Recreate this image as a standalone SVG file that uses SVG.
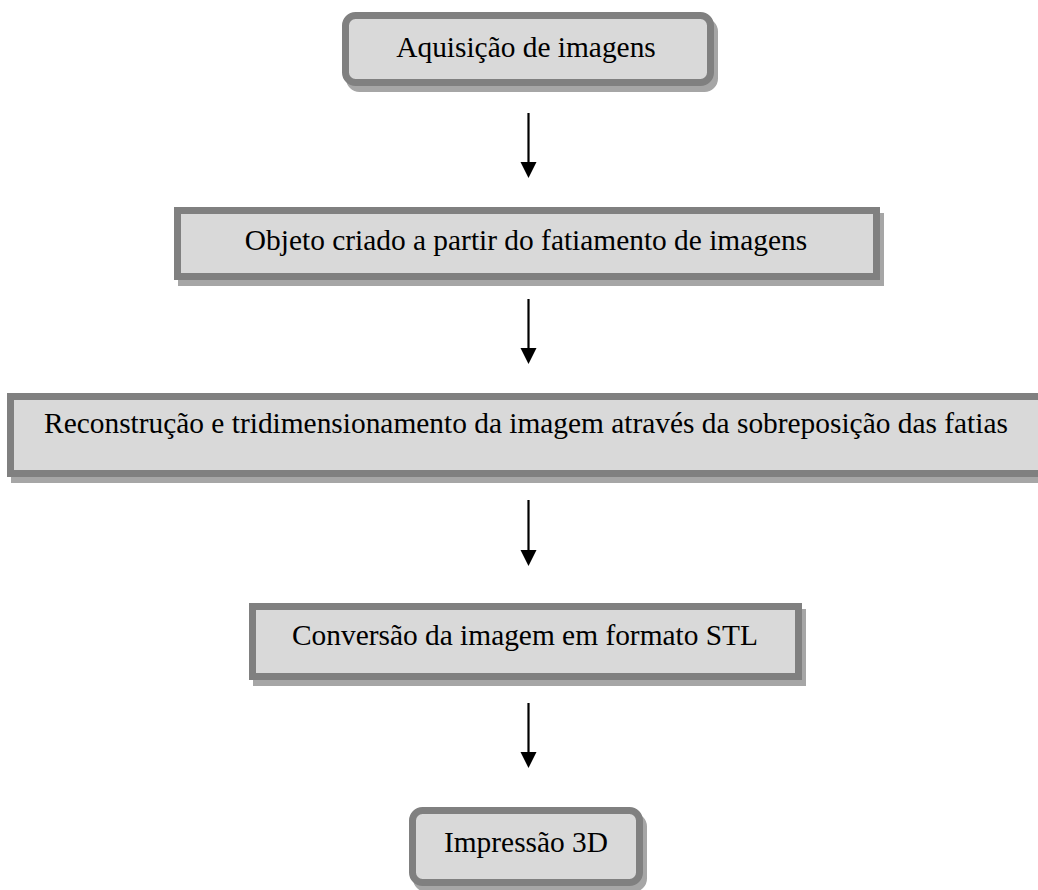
<svg xmlns="http://www.w3.org/2000/svg" width="1038" height="890" viewBox="0 0 1038 890">
  <style>
    .shadow { fill: #a6a6a6; stroke: #a6a6a6; stroke-width: 7; }
    .box { fill: #d9d9d9; stroke: #808080; stroke-width: 7; }
    .label { font-family: "Liberation Serif", "Times New Roman", serif; font-size: 29.4px; fill: #000; text-anchor: middle; }
    .conn { stroke: #000; stroke-width: 2.2; fill: none; }
    .head { fill: #000; }
  </style>
  <rect width="1038" height="890" fill="#ffffff"/>
  <g id="node-aquisicao">
    <rect class="shadow" x="349.5" y="21.5" width="365" height="67" rx="10"/>
    <rect class="box" x="345.5" y="15.5" width="365" height="67" rx="10"/>
    <text class="label" x="526" y="57">Aquisição de imagens</text>
  </g>
  <g id="node-objeto">
    <rect class="shadow" x="181.5" y="216.5" width="699" height="66"/>
    <rect class="box" x="177.5" y="210.5" width="699" height="66"/>
    <text class="label" x="526" y="250">Objeto criado a partir do fatiamento de imagens</text>
  </g>
  <g id="node-reconstrucao">
    <rect class="shadow" x="14.5" y="402.5" width="1040" height="77"/>
    <rect class="box" x="10.5" y="396.5" width="1040" height="77"/>
    <text class="label" x="526" y="433">Reconstrução e tridimensionamento da imagem através da sobreposição das fatias</text>
  </g>
  <g id="node-conversao">
    <rect class="shadow" x="256.5" y="612.5" width="546" height="70"/>
    <rect class="box" x="252.5" y="606.5" width="546" height="70"/>
    <text class="label" x="525" y="645">Conversão da imagem em formato STL</text>
  </g>
  <g id="node-impressao">
    <rect class="shadow" x="416.5" y="816.5" width="227" height="72" rx="10"/>
    <rect class="box" x="412.5" y="810.5" width="227" height="72" rx="10"/>
    <text class="label" x="526" y="852">Impressão 3D</text>
  </g>
  <g id="connectors">
    <line class="conn" x1="528.5" y1="113" x2="528.5" y2="165"/>
    <polygon class="head" points="520.5,162 536.5,162 528.5,178"/>
    <line class="conn" x1="528.5" y1="299" x2="528.5" y2="351"/>
    <polygon class="head" points="520.5,348 536.5,348 528.5,364"/>
    <line class="conn" x1="528.5" y1="500" x2="528.5" y2="553"/>
    <polygon class="head" points="520.5,550 536.5,550 528.5,566"/>
    <line class="conn" x1="528.5" y1="703" x2="528.5" y2="755"/>
    <polygon class="head" points="520.5,752 536.5,752 528.5,768"/>
  </g>
</svg>
